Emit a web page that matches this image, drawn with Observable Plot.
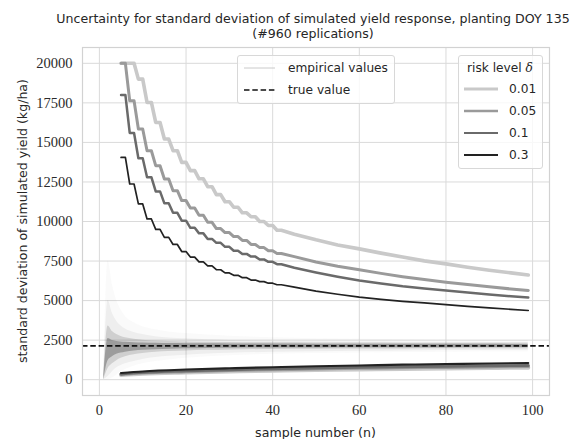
<!DOCTYPE html>
<html>
<head>
<meta charset="utf-8">
<script src="https://cdn.jsdelivr.net/npm/d3@7"></script>
<script src="https://cdn.jsdelivr.net/npm/@observablehq/plot@0.6"></script>
<style>
  body { margin: 0; background: #fff; }
  #fig { position: relative; width: 575px; height: 439px; overflow: hidden; background: #fff; }
  #title { height: 40px; position: relative; }
  #title div { position: absolute; left: 313px; transform: translateX(-50%); white-space: nowrap;
    font-family: "DejaVu Sans", sans-serif; font-size: 12.6px; color: #262626; line-height: 15px; }
  .lab { position: absolute; font-family: "DejaVu Sans", sans-serif; font-size: 12.6px; color: #262626; white-space: nowrap; }
  .legend { position: absolute; background: rgba(255,255,255,0.8); border: 1px solid #d8d8d8; border-radius: 3px; box-sizing: border-box; }
  .legend .t { position: absolute; font-family: "DejaVu Sans", sans-serif; font-size: 12.2px; color: #262626; white-space: nowrap; transform: translateY(-50%); }
  .legend svg { position: absolute; overflow: visible; }
  #chart svg text { font-family: "Liberation Serif", "Times New Roman", serif !important; font-size: 14.5px !important; fill: #2a2a2a; }
</style>
</head>
<body>
<div id="fig">
  <div id="title">
    <div style="top:10.5px">Uncertainty for standard deviation of simulated yield response, planting DOY 135</div>
    <div style="top:25.5px">(#960 replications)</div>
  </div>
  <div id="chart"></div>
</div>
<script>
// ---------------- data ----------------
const deltas = ["0.01", "0.05", "0.1", "0.3"];
const xTicks = [0, 20, 40, 60, 80, 100];
const yTicks = [0, 2500, 5000, 7500, 10000, 12500, 15000, 17500, 20000];
const trueValue = 2140;

// upper confidence bounds (sample number n)
const nUpper = [5, 6, 7, 8, 9, 10, 11, 12, 13, 14, 15, 16, 17, 18, 19, 20, 21, 22, 23, 24, 25, 26, 27, 28, 29, 30,
  31, 32, 33, 34, 35, 36, 37, 38, 39, 40, 41, 42, 45, 50, 55, 60, 65, 70, 75, 80, 85, 90, 95, 99];
const upper001 = [20000, 20000, 20000, 20000, 19000, 19000, 17525, 17525, 16260, 16260, 15215, 15215, 14475, 14475,
  13740, 13740, 13215, 13215, 12700, 12700, 12200, 12200, 11700, 11700, 11250, 11250, 10900, 10900, 10550, 10550,
  10300, 10300, 10000, 10000, 9750, 9750, 9450, 9450, 9200, 8840, 8520, 8270, 8000, 7750, 7510, 7320, 7110, 6920, 6750, 6620];
const upper005 = [20000, 20000, 17630, 17630, 15845, 15845, 14475, 14475, 13530, 13530, 12690, 12690, 11950, 11950,
  11320, 11320, 10850, 10850, 10400, 10400, 9950, 9950, 9550, 9550, 9300, 9300, 9050, 9050, 8800, 8800,
  8550, 8550, 8350, 8350, 8150, 8150, 7980, 7980, 7780, 7440, 7170, 6945, 6720, 6510, 6330, 6160, 6010, 5870, 5735, 5640];
const upper01 = [18000, 18000, 15600, 15600, 14000, 14000, 12800, 12800, 11900, 11900, 11150, 11150, 10550, 10550,
  10050, 10050, 9600, 9600, 9250, 9250, 8900, 8900, 8650, 8650, 8400, 8400, 8150, 8150, 7950, 7950,
  7780, 7780, 7600, 7600, 7450, 7450, 7300, 7300, 7080, 6780, 6510, 6270, 6080, 5900, 5760, 5640, 5510, 5385, 5270, 5195];
const upper03 = [14050, 14050, 12370, 12370, 11110, 11110, 10160, 10160, 9500, 9500, 9000, 9000, 8550, 8550,
  8100, 8100, 7750, 7750, 7450, 7450, 7200, 7200, 6950, 6950, 6750, 6750, 6600, 6600, 6450, 6450,
  6300, 6300, 6200, 6200, 6100, 6100, 6000, 6000, 5850, 5600, 5400, 5215, 5080, 4950, 4850, 4750, 4640, 4540, 4450, 4375];

// lower confidence bounds
const nLower = [5, 10, 20, 30, 40, 50, 60, 70, 80, 90, 99];
const lower001 = [300, 380, 460, 520, 570, 610, 650, 680, 710, 740, 760];
const lower005 = [340, 430, 520, 590, 640, 690, 730, 760, 790, 820, 840];
const lower01 = [360, 460, 560, 630, 690, 740, 780, 820, 850, 880, 900];
const lower03 = [420, 520, 640, 720, 790, 850, 900, 950, 990, 1020, 1050];

// empirical values of the 960 replications, summarised as nested envelopes
const empN = [1, 2, 3, 4, 5, 6, 8, 10, 13, 16, 20, 25, 30, 40, 50, 60, 70, 80, 90, 99];
const empOuterLo = [0, 0, 100, 300, 500, 650, 850, 1000, 1150, 1250, 1350, 1450, 1520, 1600, 1650, 1690, 1720, 1740, 1760, 1770];
const empOuterHi = [300, 7500, 6000, 5000, 4400, 4000, 3600, 3350, 3150, 3020, 2920, 2820, 2750, 2650, 2590, 2550, 2520, 2500, 2480, 2470];
const empWideLo = [0, 200, 500, 750, 900, 1000, 1150, 1280, 1400, 1480, 1550, 1620, 1670, 1730, 1770, 1800, 1820, 1840, 1850, 1860];
const empWideHi = [200, 5000, 4200, 3700, 3400, 3200, 2980, 2850, 2720, 2640, 2580, 2520, 2480, 2430, 2400, 2385, 2370, 2360, 2355, 2350];
const empMidLo = [0, 700, 1000, 1200, 1350, 1450, 1570, 1650, 1730, 1780, 1820, 1860, 1880, 1910, 1925, 1935, 1945, 1950, 1955, 1960];
const empMidHi = [100, 3400, 3050, 2850, 2730, 2650, 2560, 2500, 2450, 2420, 2390, 2370, 2350, 2330, 2320, 2315, 2310, 2305, 2300, 2300];
const empCoreLo = [0, 1200, 1450, 1600, 1680, 1740, 1810, 1860, 1900, 1930, 1950, 1970, 1985, 2000, 2010, 2015, 2020, 2025, 2030, 2035];
const empCoreHi = [50, 2600, 2480, 2420, 2390, 2370, 2340, 2320, 2300, 2285, 2275, 2265, 2258, 2250, 2245, 2240, 2238, 2235, 2233, 2230];

// ---------------- styles ----------------
const deltaColor = {"0.01": "#c9c9c9", "0.05": "#9a9a9a", "0.1": "#6a6a6a", "0.3": "#222222"};
const deltaWidth = {"0.01": 3.6, "0.05": 3.0, "0.1": 2.5, "0.3": 1.7};
const bandFill = "#555";
const bandOpacity = [0.03, 0.07, 0.2, 0.42];

// ---------------- tables ----------------
const upperSeries = {"0.01": upper001, "0.05": upper005, "0.1": upper01, "0.3": upper03};
const lowerSeries = {"0.01": lower001, "0.05": lower005, "0.1": lower01, "0.3": lower03};
const upperRows = d => nUpper.map((n, i) => ({n, v: upperSeries[d][i]}));
const lowerRows = d => nLower.map((n, i) => ({n, v: lowerSeries[d][i]}));
const bands = [
  [empOuterLo, empOuterHi], [empWideLo, empWideHi], [empMidLo, empMidHi], [empCoreLo, empCoreHi]
].map(([lo, hi]) => empN.map((n, i) => ({n, lo: lo[i], hi: hi[i]})));

const tickFont = {fontFamily: "Liberation Serif", fontSize: 14.5};
const marks = [
  Plot.gridX(xTicks, {stroke: "#dadada", strokeOpacity: 1, strokeWidth: 1}),
  Plot.gridY(yTicks, {stroke: "#dadada", strokeOpacity: 1, strokeWidth: 1}),
  ...bands.map((b, k) => Plot.areaY(b, {x: "n", y1: "lo", y2: "hi", fill: bandFill, fillOpacity: bandOpacity[k], curve: "monotone-x"})),
];
for (const d of deltas) {
  marks.push(Plot.line(upperRows(d), {x: "n", y: "v", stroke: deltaColor[d], strokeWidth: deltaWidth[d]}));
}
for (const d of deltas) {
  marks.push(Plot.line(lowerRows(d), {x: "n", y: "v", stroke: deltaColor[d], strokeWidth: deltaWidth[d] + 0.4, curve: "monotone-x"}));
}
marks.push(
  Plot.ruleY([trueValue], {stroke: "#111", strokeWidth: 1.7, strokeDasharray: "5.5,2.8"}),
  Plot.frame({stroke: "#d2d2d2", strokeWidth: 1.2}),
  Plot.axisX(xTicks, {tickSize: 0, tickPadding: 9, label: null, tickFormat: d => String(d), ...tickFont}),
  Plot.axisY(yTicks, {tickSize: 0, tickPadding: 10, label: null, tickFormat: d => String(d), ...tickFont})
);

const chart = Plot.plot({
  width: 575,
  height: 399,
  marginLeft: 82,
  marginRight: 26,
  marginTop: 7,
  marginBottom: 44,
  x: {domain: [-3.9, 103.9]},
  y: {domain: [-1000, 21000]},
  style: {fontFamily: "Liberation Serif, serif", fontSize: "14.5px", color: "#262626", background: "transparent"},
  marks
});
document.getElementById("chart").appendChild(chart);

// ---------------- axis labels & legends (HTML overlays) ----------------
const fig = document.getElementById("fig");
function addDiv(cls, html, css) {
  const el = document.createElement("div");
  el.className = cls;
  el.innerHTML = html;
  Object.assign(el.style, css);
  fig.appendChild(el);
  return el;
}
addDiv("lab", "sample number (n)", {left: "315.5px", top: "431.5px", transform: "translate(-50%,-50%)"});
addDiv("lab", "standard deviation of simulated yield (kg/ha)", {left: "21.5px", top: "221px", transform: "translate(-50%,-50%) rotate(-90deg)"});

function sample(el, x1, x2, y, stroke, width, dash) {
  const ns = "http://www.w3.org/2000/svg";
  const s = document.createElementNS(ns, "svg");
  s.setAttribute("width", x2 - x1);
  s.setAttribute("height", 10);
  s.style.left = x1 + "px";
  s.style.top = (y - 5) + "px";
  const l = document.createElementNS(ns, "line");
  l.setAttribute("x1", 0); l.setAttribute("x2", x2 - x1);
  l.setAttribute("y1", 5); l.setAttribute("y2", 5);
  l.setAttribute("stroke", stroke);
  l.setAttribute("stroke-width", width);
  if (dash) l.setAttribute("stroke-dasharray", dash);
  s.appendChild(l);
  el.appendChild(s);
}

// legend 1: empirical / true
const leg1 = addDiv("legend", "", {left: "237px", top: "55px", width: "158px", height: "49px"});
const legendItems1 = ["empirical values", "true value"];
sample(leg1, 6, 37, 12, "#bdbdbd", 0.8, null);
sample(leg1, 6, 37, 34, "#111", 1.7, "5.5,2.8");
legendItems1.forEach((t, i) => {
  const el = document.createElement("div");
  el.className = "t"; el.textContent = t;
  el.style.left = "50px"; el.style.top = (12 + 22 * i) + "px";
  leg1.appendChild(el);
});

// legend 2: risk level
const leg2 = addDiv("legend", "", {left: "458px", top: "55px", width: "85px", height: "114px"});
const lt = document.createElement("div");
lt.className = "t";
lt.innerHTML = 'risk level <span style="font-family:\'DejaVu Serif\',serif;font-style:italic">δ</span>';
lt.style.left = "41px"; lt.style.top = "12px"; lt.style.transform = "translate(-50%,-50%)";
leg2.appendChild(lt);
deltas.forEach((d, i) => {
  const y = 33 + 22 * i;
  sample(leg2, 5, 39, y, deltaColor[d], deltaWidth[d] === 1.7 ? 2.2 : deltaWidth[d] - 0.4, null);
  const el = document.createElement("div");
  el.className = "t"; el.textContent = d;
  el.style.left = "50px"; el.style.top = y + "px";
  leg2.appendChild(el);
});
</script>
</body>
</html>
